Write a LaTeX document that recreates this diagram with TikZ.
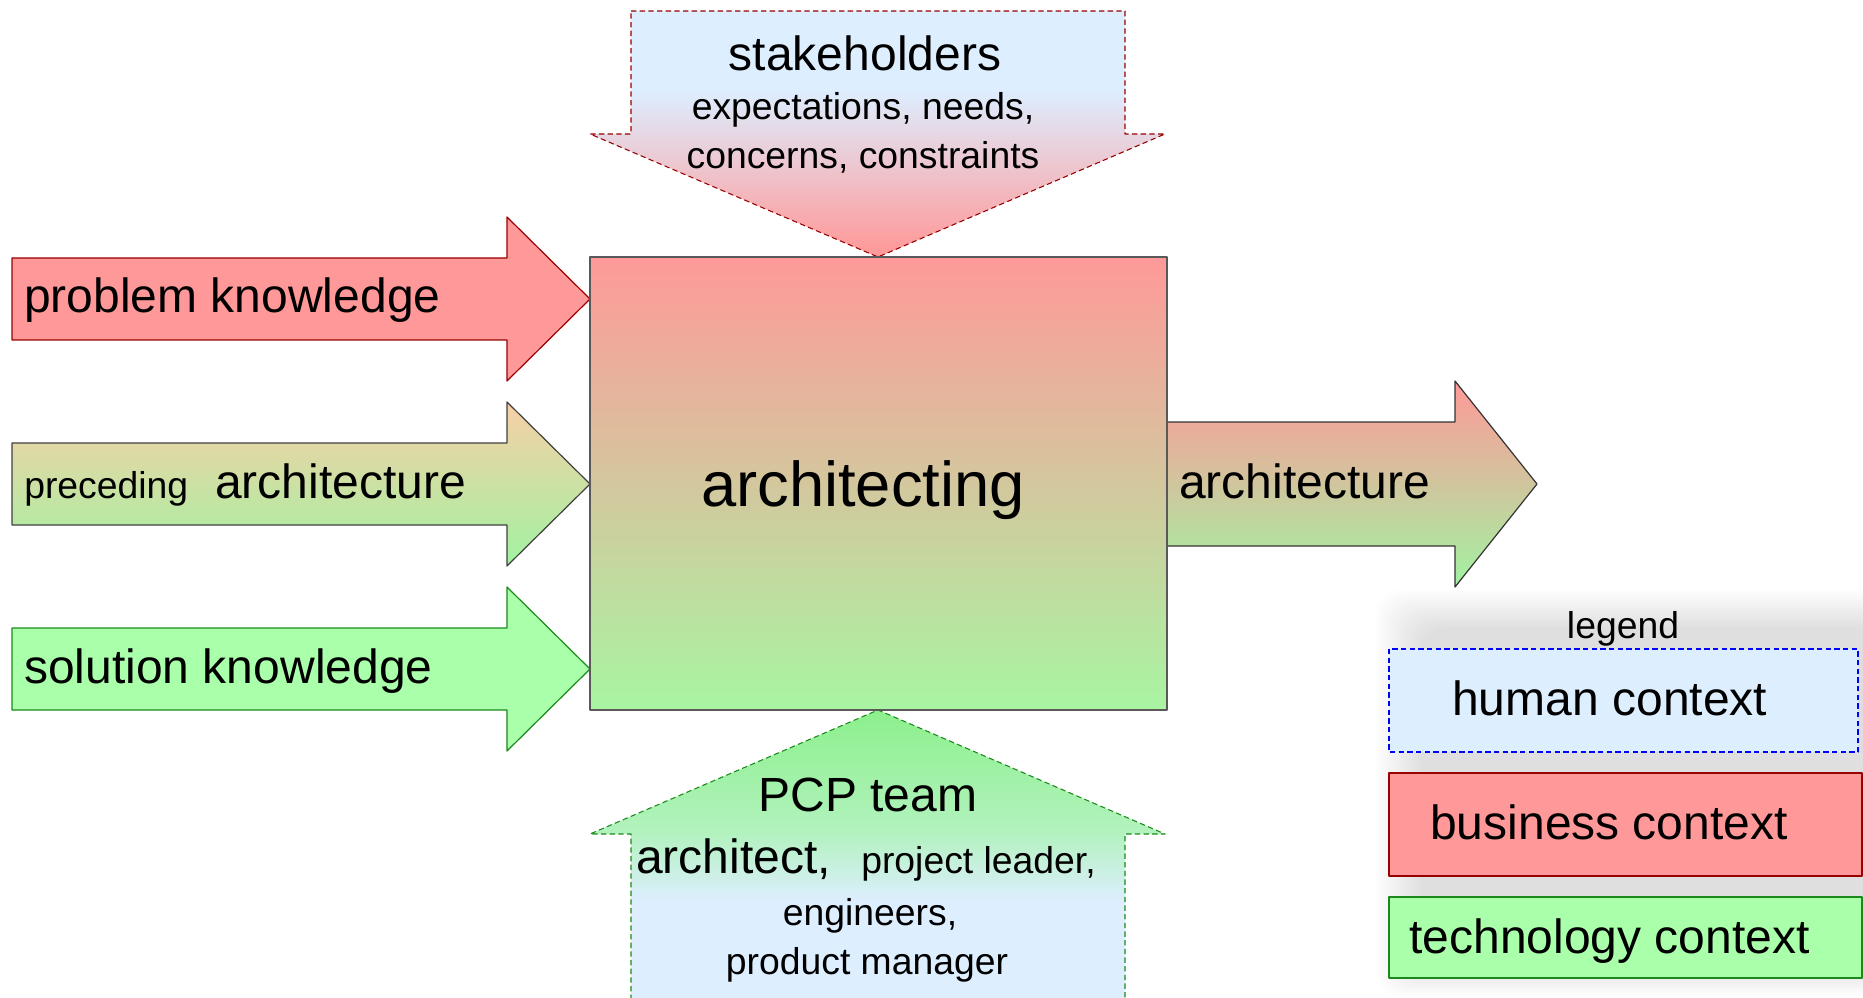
\documentclass[tikz,border=0pt]{standalone}
\usepackage{fontspec}
\setmainfont{Liberation Sans}
\definecolor{humanblue}{HTML}{DDEEFF}
\definecolor{bizred}{HTML}{FF9999}
\definecolor{techgreen}{HTML}{AAFFAA}
\definecolor{bizline}{HTML}{990000}
\definecolor{techline}{HTML}{1A8A1A}
\definecolor{teamgreen}{HTML}{8CF08C}
\definecolor{teammid}{HTML}{B2F2BE}
\definecolor{prevtop}{HTML}{F7CFA6}
\definecolor{prevmid}{HTML}{DCD8A6}
\definecolor{archmid}{HTML}{D8C6A0}
\definecolor{boxgreen}{HTML}{A8F5A2}
\pgfdeclareverticalshading{stakeshade}{100bp}{color(0bp)=(bizred); color(26bp)=(bizred); color(59bp)=(humanblue); color(100bp)=(humanblue)}
\pgfdeclareverticalshading{teamshade}{100bp}{color(0bp)=(humanblue); color(42bp)=(humanblue); color(54bp)=(teammid); color(75bp)=(teamgreen); color(100bp)=(teamgreen)}
\begin{document}
\begin{tikzpicture}[x=0.75pt,y=-0.75pt,line join=round,
	big/.style={font=\fontsize{36}{40}\selectfont,inner sep=0pt},
	small/.style={font=\fontsize{28}{32}\selectfont,inner sep=0pt},
	huge/.style={font=\fontsize{47.5}{52}\selectfont,inner sep=0pt},
	dashline/.style={line width=0.8pt,dash pattern=on 4pt off 2.5pt}]
	\useasboundingbox (0,0) rectangle (1863,998);
	
	\foreach \k in {0,...,15}
	\fill[black,opacity=0.0075,rounded corners=18pt] (1376+3*\k,590+2.5*\k) rectangle (1900,996-2*\k);
	
	\shadedraw[shading=stakeshade,draw=bizline,dashline] (631,11)--(1125,11)--(1125,134)--(1165,134)--(878,257)--(590,134)--(631,134)--cycle;
	\shade[shading=teamshade] (631,1000)--(631,834)--(590,834)--(878,710)--(1165,834)--(1125,834)--(1125,1000)--cycle;
	\draw[draw=techline,dashline] (631,1000)--(631,834)--(590,834)--(878,710)--(1165,834)--(1125,834)--(1125,1000);
	
	\draw[line width=0.9pt,fill=bizred,draw=bizline] (12,258)--++(495,0)--++(0,-41)--++(83,82)--++(-83,82)--++(0,-41)--++(-495,0)--cycle;
	\shadedraw[line width=0.9pt,top color=prevtop,middle color=prevmid,bottom color=techgreen!95!black,draw=black!75] (12,443)--++(495,0)--++(0,-41)--++(83,82)--++(-83,82)--++(0,-41)--++(-495,0)--cycle;
	\draw[line width=0.9pt,fill=techgreen,draw=techline] (12,628)--++(495,0)--++(0,-41)--++(83,82)--++(-83,82)--++(0,-41)--++(-495,0)--cycle;
	\shadedraw[line width=0.9pt,top color=bizred,middle color=archmid,bottom color=techgreen!95!black,draw=black!80] (1167,422)--++(288,0)--++(0,-41)--++(82,103)--++(-82,103)--++(0,-41)--++(-288,0)--cycle;
	
	\shadedraw[line width=0.9pt,top color=bizred,bottom color=boxgreen,draw=black!65] (590,257) rectangle (1167,710);
	
	\draw[fill=humanblue,draw=blue,dashline] (1389,649) rectangle (1858,752);
	\draw[line width=0.9pt,fill=bizred,draw=bizline] (1389,773) rectangle (1862,876);
	\draw[line width=0.9pt,fill=techgreen,draw=techline] (1389,897) rectangle (1862,978);
	
	\node[big,anchor=base] (stake) at (865,71) {stakeholders};
	\node[small,anchor=base] (needs) at (863,120) {expectations, needs,};
	\node[small,anchor=base] (concerns) at (863,169) {concerns, constraints};
	\node[huge,anchor=base] (architecting) at (863,506) {architecting};
	\node[big,anchor=base west] (problem) at (24,313) {problem knowledge};
	\node[small,anchor=base west] (preceding) at (24,498) {preceding};
	\node[big,anchor=base west] (prevarch) at (215,498) {architecture};
	\node[big,anchor=base west] (solution) at (24,683) {solution knowledge};
	\node[big,anchor=base west] (output) at (1179,498) {architecture};
	\node[big,anchor=base] (team) at (868,811) {PCP team};
	\node[big,anchor=base west] (architect) at (636,873) {architect,};
	\node[small,anchor=base west] (leader) at (861,873) {project leader,};
	\node[small,anchor=base] (engineers) at (870,925) {engineers,};
	\node[small,anchor=base] (manager) at (867,974) {product manager};
	\node[small,anchor=base] (legend) at (1623,638) {legend};
	\node[big,anchor=base west] (human) at (1452,715) {human context};
	\node[big,anchor=base west] (business) at (1430,839) {business context};
	\node[big,anchor=base west] (technology) at (1409,953) {technology context};
\end{tikzpicture}
\end{document}
